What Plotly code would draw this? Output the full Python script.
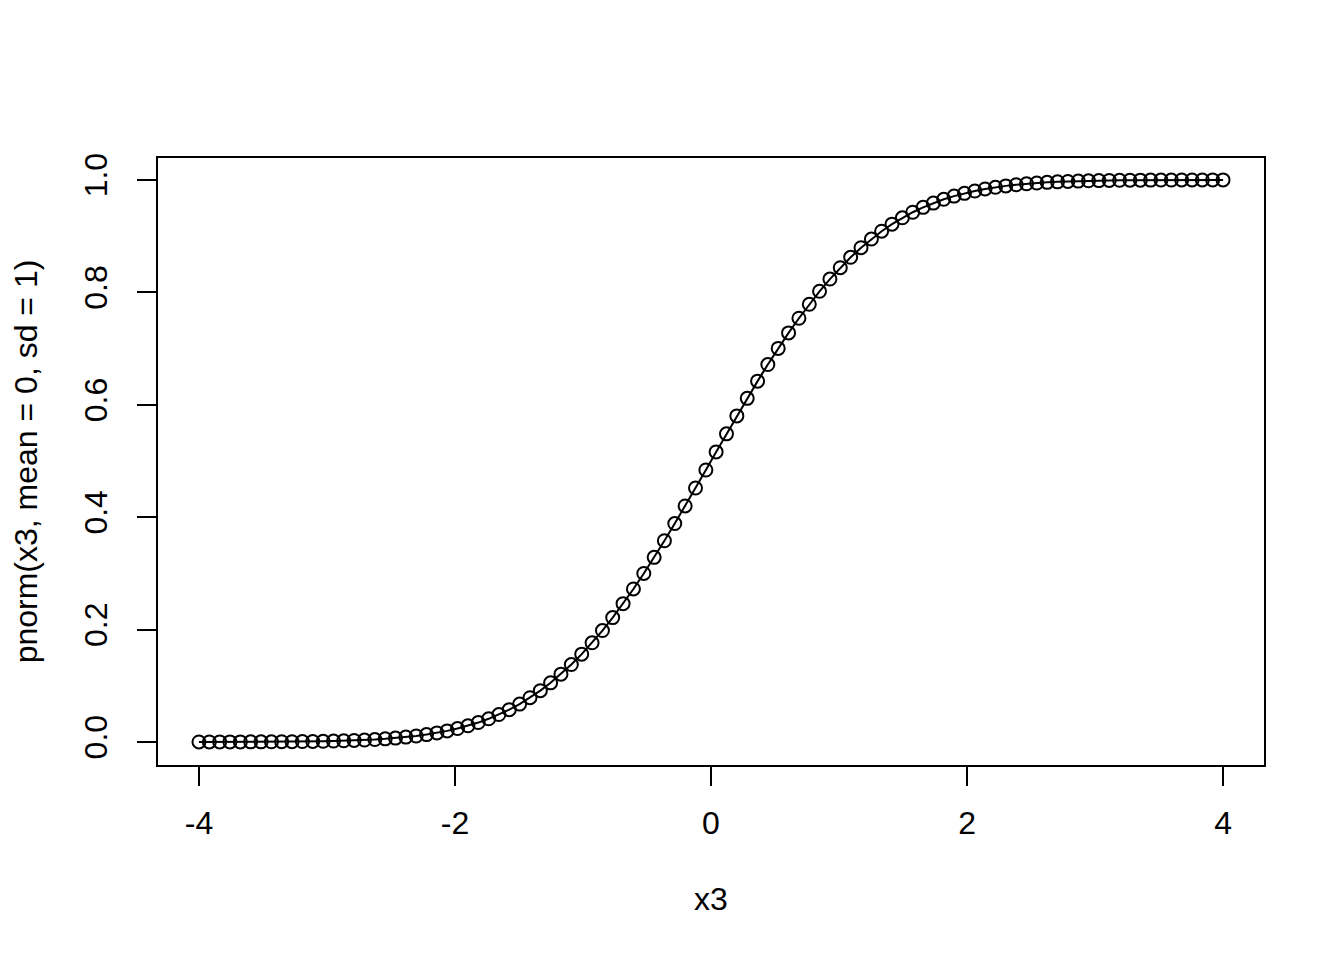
import plotly.graph_objects as go

# x3 values (100 evenly spaced points from -4 to 4)
x_left = [-4.000, -3.919, -3.838, -3.758, -3.677, -3.596, -3.515, -3.434, -3.354, -3.273,
          -3.192, -3.111, -3.030, -2.949, -2.869, -2.788, -2.707, -2.626, -2.545, -2.465,
          -2.384, -2.303, -2.222, -2.141, -2.061, -1.980, -1.899, -1.818, -1.737, -1.657,
          -1.576, -1.495, -1.414, -1.333, -1.253, -1.172, -1.091, -1.010, -0.929, -0.848,
          -0.768, -0.687, -0.606, -0.525, -0.444, -0.364, -0.283, -0.202, -0.121, -0.040]
x_right = [0.040, 0.121, 0.202, 0.283, 0.364, 0.444, 0.525, 0.606, 0.687, 0.768,
           0.848, 0.929, 1.010, 1.091, 1.172, 1.253, 1.333, 1.414, 1.495, 1.576,
           1.657, 1.737, 1.818, 1.899, 1.980, 2.061, 2.141, 2.222, 2.303, 2.384,
           2.465, 2.545, 2.626, 2.707, 2.788, 2.869, 2.949, 3.030, 3.111, 3.192,
           3.273, 3.354, 3.434, 3.515, 3.596, 3.677, 3.758, 3.838, 3.919, 4.000]

y_left = [0.0000, 0.0000, 0.0001, 0.0001, 0.0001, 0.0002, 0.0002, 0.0003, 0.0004, 0.0005,
          0.0007, 0.0009, 0.0012, 0.0016, 0.0021, 0.0027, 0.0034, 0.0043, 0.0055, 0.0069,
          0.0086, 0.0106, 0.0131, 0.0161, 0.0197, 0.0239, 0.0288, 0.0345, 0.0412, 0.0488,
          0.0575, 0.0674, 0.0787, 0.0913, 0.1052, 0.1206, 0.1377, 0.1562, 0.1764, 0.1982,
          0.2213, 0.2461, 0.2722, 0.2998, 0.3285, 0.3580, 0.3886, 0.4199, 0.4518, 0.4839]
y_right = [0.5161, 0.5482, 0.5801, 0.6114, 0.6420, 0.6715, 0.7002, 0.7278, 0.7539, 0.7787,
           0.8018, 0.8236, 0.8438, 0.8623, 0.8794, 0.8948, 0.9087, 0.9213, 0.9326, 0.9425,
           0.9512, 0.9588, 0.9655, 0.9712, 0.9761, 0.9803, 0.9839, 0.9869, 0.9894, 0.9914,
           0.9931, 0.9945, 0.9957, 0.9966, 0.9973, 0.9979, 0.9984, 0.9988, 0.9991, 0.9993,
           0.9995, 0.9996, 0.9997, 0.9998, 0.9998, 0.9999, 0.9999, 0.9999, 1.0000, 1.0000]

x3 = x_left + x_right
p = y_left + y_right

x_ticks = [-4, -2, 0, 2, 4]
y_ticks = [0.0, 0.2, 0.4, 0.6, 0.8, 1.0]
y_tick_text = ["0.0", "0.2", "0.4", "0.6", "0.8", "1.0"]

font = "Liberation Sans, Arial, sans-serif"
tfont = dict(family=font, size=32, color="black")

fig = go.Figure()
fig.add_trace(go.Scatter(
    x=x3, y=p, mode="lines+markers",
    line=dict(color="black", width=2),
    marker=dict(symbol="circle-open", size=13, color="black", line=dict(width=2, color="black")),
    showlegend=False,
))

fig.update_layout(
    width=1344, height=960,
    paper_bgcolor="white", plot_bgcolor="white",
    margin=dict(l=150, r=88, t=150, b=203),
    font=tfont,
)
fig.update_xaxes(
    range=[-4.32, 4.32], tickvals=x_ticks, ticktext=[str(v) for v in x_ticks],
    showline=True, mirror=True, linecolor="black", linewidth=2,
    ticks="outside", ticklen=19, tickwidth=2, tickcolor="black",
    showgrid=False, zeroline=False, tickfont=tfont, ticklabelstandoff=10,
    automargin=False,
    title=dict(text="x3", standoff=47, font=tfont),
)
fig.update_yaxes(
    range=[-0.041, 1.039], tickvals=y_ticks, ticktext=y_tick_text,
    showline=True, mirror=True, linecolor="black", linewidth=2,
    ticks="outside", ticklen=19, tickwidth=2, tickcolor="black",
    showgrid=False, zeroline=False, tickangle=-90, tickfont=tfont, ticklabelstandoff=17,
    automargin=False,
    title=dict(text="pnorm(x3, mean = 0, sd = 1)", standoff=42, font=tfont),
)

fig.write_html("out.html")
